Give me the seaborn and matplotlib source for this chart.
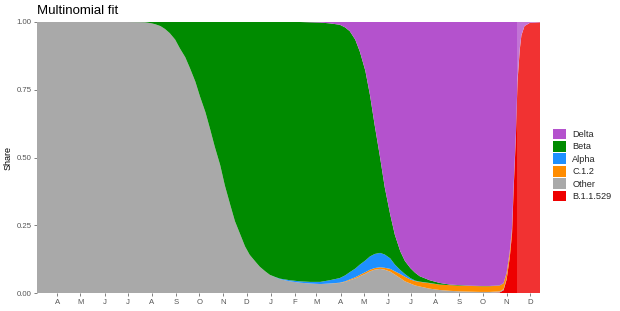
import matplotlib
matplotlib.use("Agg")
import matplotlib.pyplot as plt
import matplotlib.dates as mdates
from matplotlib.patches import Patch
import seaborn as sns
import pandas as pd

# ---- data ----
dates = ["2020-03-06", "2020-05-01", "2020-07-01", "2020-07-17", "2020-07-23", "2020-07-30",
         "2020-08-05", "2020-08-12", "2020-08-18", "2020-08-24", "2020-08-31", "2020-09-06",
         "2020-09-13", "2020-09-19", "2020-09-26", "2020-10-02", "2020-10-09", "2020-10-15",
         "2020-10-21", "2020-10-28", "2020-11-03", "2020-11-10", "2020-11-16", "2020-11-23",
         "2020-11-29", "2020-12-05", "2020-12-12", "2020-12-18", "2020-12-25", "2020-12-31",
         "2021-01-07", "2021-01-13", "2021-01-26", "2021-02-08", "2021-02-21", "2021-03-06",
         "2021-03-18", "2021-03-31", "2021-04-07", "2021-04-13", "2021-04-20", "2021-04-26",
         "2021-05-03", "2021-05-09", "2021-05-15", "2021-05-22", "2021-05-28", "2021-06-04",
         "2021-06-10", "2021-06-17", "2021-06-23", "2021-06-30", "2021-07-06", "2021-07-12",
         "2021-07-25", "2021-08-07", "2021-08-20", "2021-09-02", "2021-09-15", "2021-09-28",
         "2021-10-10", "2021-10-23", "2021-10-28", "2021-11-01", "2021-11-05", "2021-11-08",
         "2021-11-10", "2021-11-13", "2021-11-15", "2021-11-18", "2021-11-20", "2021-11-24",
         "2021-12-01", "2021-12-14"]

other = [1.0, 1.0, 1.0, 0.9995, 0.999, 0.996,
         0.992, 0.985, 0.974, 0.959, 0.935, 0.903,
         0.87, 0.83, 0.78, 0.725, 0.667, 0.605,
         0.54, 0.472, 0.397, 0.325, 0.265, 0.215,
         0.172, 0.141, 0.117, 0.097, 0.08, 0.067,
         0.058, 0.051, 0.043, 0.038, 0.035, 0.033,
         0.035, 0.037, 0.041, 0.047, 0.054, 0.062,
         0.071, 0.08, 0.086, 0.089, 0.086, 0.079,
         0.068, 0.055, 0.043, 0.035, 0.028, 0.024,
         0.016, 0.011, 0.008, 0.006, 0.005, 0.004,
         0.004, 0.004, 0.004, 0.003, 0.003, 0.003,
         0.002, 0.002, 0.001, 0.001, 0.0, 0.0,
         0.0, 0.0]
c12 = [0, 0, 0, 0, 0, 0,
       0, 0, 0, 0, 0, 0,
       0, 0, 0, 0, 0, 0,
       0, 0, 0, 0, 0, 0,
       0, 0, 0, 0, 0, 0,
       0, 0, 0, 0, 0, 0,
       0, 0.001, 0.002, 0.003, 0.004, 0.005,
       0.006, 0.006, 0.006, 0.006, 0.007, 0.01,
       0.012, 0.015, 0.017, 0.015, 0.016, 0.017,
       0.02, 0.02, 0.021, 0.021, 0.021, 0.021,
       0.021, 0.021, 0.021, 0.02, 0.018, 0.016,
       0.013, 0.009, 0.005, 0.003, 0.001, 0.0,
       0.0, 0.0]
alpha = [0, 0, 0, 0, 0, 0,
         0, 0, 0, 0, 0, 0,
         0, 0, 0, 0, 0, 0,
         0, 0, 0, 0, 0, 0,
         0, 0, 0, 0, 0, 0,
         0.001, 0.002, 0.004, 0.005, 0.006, 0.008,
         0.012, 0.017, 0.022, 0.027, 0.032, 0.038,
         0.043, 0.049, 0.052, 0.053, 0.049, 0.039,
         0.025, 0.015, 0.01, 0.005, 0.002, 0.001,
         0.001, 0, 0, 0, 0, 0,
         0, 0, 0, 0, 0, 0,
         0, 0, 0, 0, 0, 0,
         0, 0]
beta = [0, 0, 0, 0.0005, 0.001, 0.004,
        0.008, 0.015, 0.026, 0.041, 0.065, 0.097,
        0.13, 0.17, 0.22, 0.275, 0.333, 0.395,
        0.46, 0.528, 0.603, 0.675, 0.735, 0.785,
        0.828, 0.859, 0.883, 0.903, 0.92, 0.933,
        0.941, 0.947, 0.953, 0.957, 0.958, 0.957,
        0.948, 0.935, 0.915, 0.889, 0.845, 0.785,
        0.70, 0.595, 0.476, 0.352, 0.248, 0.162,
        0.110, 0.069, 0.048, 0.037, 0.029, 0.02,
        0.01, 0.006, 0.002, 0.002, 0.001, 0.001,
        0.001, 0.001, 0.001, 0.001, 0.001, 0.001,
        0, 0, 0, 0, 0, 0,
        0, 0]
delta = [0, 0, 0, 0, 0, 0,
         0, 0, 0, 0, 0, 0,
         0, 0, 0, 0, 0, 0,
         0, 0, 0, 0, 0, 0,
         0, 0, 0, 0, 0, 0,
         0, 0, 0, 0, 0.001, 0.002,
         0.005, 0.01, 0.02, 0.034, 0.065, 0.11,
         0.18, 0.27, 0.38, 0.50, 0.61, 0.71,
         0.785, 0.846, 0.882, 0.908, 0.925, 0.938,
         0.953, 0.963, 0.969, 0.971, 0.973, 0.974,
         0.974, 0.972, 0.964, 0.926, 0.848, 0.76,
         0.605, 0.409, 0.214, 0.096, 0.049, 0.015,
         0.003, 0.001]
b11529 = [0, 0, 0, 0, 0, 0,
          0, 0, 0, 0, 0, 0,
          0, 0, 0, 0, 0, 0,
          0, 0, 0, 0, 0, 0,
          0, 0, 0, 0, 0, 0,
          0, 0, 0, 0, 0, 0,
          0, 0, 0, 0, 0, 0,
          0, 0, 0, 0, 0, 0,
          0, 0, 0, 0, 0, 0,
          0, 0, 0, 0, 0, 0,
          0, 0.002, 0.01, 0.05, 0.13, 0.22,
          0.38, 0.58, 0.78, 0.9, 0.95, 0.985,
          0.997, 0.999]

legend_order = ["Delta", "Beta", "Alpha", "C.1.2", "Other", "B.1.1.529"]
palette = {"Delta": "#B452CD", "Beta": "#008B00", "Alpha": "#1E90FF",
           "C.1.2": "#FF8C00", "Other": "#A9A9A9", "B.1.1.529": "#EE0000"}
forecast_start = "2021-11-14"

# ---- build table ----
df = pd.DataFrame({"date": pd.to_datetime(dates), "Other": other, "C.1.2": c12,
                   "Alpha": alpha, "Beta": beta, "Delta": delta, "B.1.1.529": b11529})

sns.set_theme(style="white")
plt.rcParams["font.family"] = ["Liberation Sans", "DejaVu Sans"]

fig = plt.figure(figsize=(6.2, 3.11), dpi=100)
ax = fig.add_axes([37 / 620, 18 / 311, (540 - 37) / 620, (293 - 22) / 311])

stack_order = ["B.1.1.529", "Other", "C.1.2", "Alpha", "Beta", "Delta"]
cols = [palette[k] for k in stack_order]
polys = ax.stackplot(df["date"], *[df[k].values for k in stack_order], colors=cols,
                     linewidth=0)
for p in polys:
    p.set_edgecolor("none")

ax.axvspan(pd.Timestamp(forecast_start), df["date"].iloc[-1], color="white",
           alpha=0.2, lw=0, zorder=5)

ax.set_xlim(df["date"].iloc[0], df["date"].iloc[-1])
ax.set_ylim(0, 1)
ax.set_yticks([0, 0.25, 0.5, 0.75, 1.0])
ax.set_yticklabels(["0.00", "0.25", "0.50", "0.75", "1.00"])
ax.xaxis.set_major_locator(mdates.MonthLocator(bymonth=range(1, 13), bymonthday=1))
fig.canvas.draw()
ticks = ax.get_xticks()
ax.set_xticks(ticks)
ax.set_xticklabels([mdates.num2date(t).strftime("%b")[0] for t in ticks])

for s in ax.spines.values():
    s.set_visible(False)
ax.tick_params(axis="both", which="major", length=2.5, width=0.5, color="#4D4D4D",
               labelsize=5.6, labelcolor="#555555", pad=1.5, bottom=True, left=True)
ax.set_ylabel("Share", fontsize=6.5, color="black", labelpad=3)
ax.set_xlabel("")
ax.grid(False)
fig.text(37 / 620, 1 - 11 / 311, "Multinomial fit", fontsize=9.5, ha="left", va="center",
         color="black")

handles = [Patch(facecolor=palette[k], edgecolor="none", label=k) for k in legend_order]
fig.legend(handles=handles, loc="center left", bbox_to_anchor=(553 / 620, 1 - 165 / 311),
           frameon=False, fontsize=6.6, handlelength=1.4, handleheight=1.4,
           labelspacing=0.2, handletextpad=0.7, borderaxespad=0, borderpad=0)

fig.savefig("out.png", dpi=100)
